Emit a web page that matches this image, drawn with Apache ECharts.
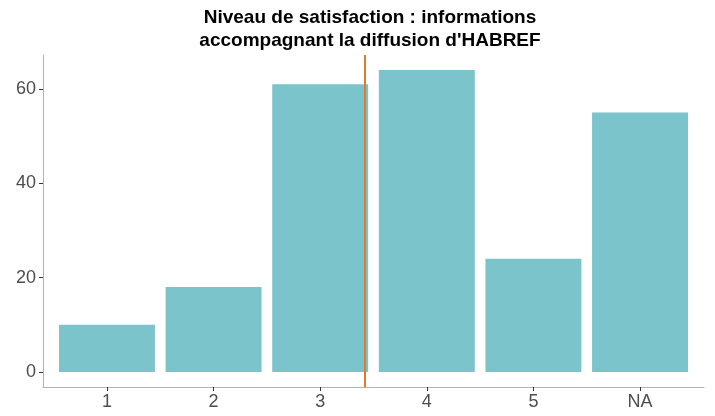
<!DOCTYPE html>
<html>
<head>
<meta charset="utf-8">
<script src="https://cdn.jsdelivr.net/npm/echarts@6/dist/echarts.min.js"></script>
<style>html,body{margin:0;padding:0;background:#fff}#c{width:715px;height:416px}</style>
</head>
<body>
<div id="c"></div>
<script>
const categories = ['1', '2', '3', '4', '5', 'NA'];
const counts = [10, 18, 61, 64, 24, 55];
const yTicks = [0, 20, 40, 60];
const meanScore = 3.42;

const chart = echarts.init(document.getElementById('c'), null, {renderer: 'canvas'});
const barData = categories.map((c, i) => [i + 1, counts[i]]);
const xPositions = categories.map((c, i) => i + 1);

chart.setOption({
  animation: false,
  backgroundColor: '#ffffff',
  title: {
    text: "Niveau de satisfaction : informations\naccompagnant la diffusion d'HABREF",
    left: 365, top: 1, textAlign: 'center',
    textStyle: {fontFamily: 'Liberation Sans, Arial, sans-serif', fontSize: 19, fontWeight: 'bold', color: '#000', lineHeight: 23}
  },
  grid: {left: 43, right: 11, top: 55, bottom: 29, containLabel: false},
  xAxis: {
    type: 'value', min: 0.4, max: 6.6,
    axisLine: {show: true, onZero: false, lineStyle: {color: '#b3b3b3', width: 1}},
    axisTick: {show: true, length: 4, lineStyle: {color: '#333'}, customValues: xPositions},
    splitLine: {show: false},
    axisLabel: {
      fontFamily: 'Liberation Sans, Arial, sans-serif', fontSize: 18, color: '#4d4d4d', margin: 6,
      customValues: xPositions,
      formatter: v => categories[Math.round(v) - 1] || ''
    }
  },
  yAxis: {
    type: 'value', min: -3.2, max: 67.2,
    axisLine: {show: true, onZero: false, lineStyle: {color: '#b3b3b3', width: 1}},
    axisTick: {show: true, length: 4, lineStyle: {color: '#333'}, customValues: yTicks},
    splitLine: {show: false},
    axisLabel: {
      fontFamily: 'Liberation Sans, Arial, sans-serif', fontSize: 18, color: '#4d4d4d', margin: 7,
      customValues: yTicks
    }
  },
  series: [{
    type: 'bar',
    data: barData,
    barWidth: '90%',
    itemStyle: {color: '#7bc4cc'},
    markLine: {
      silent: true, symbol: 'none', label: {show: false},
      lineStyle: {color: '#e8782a', width: 2, type: 'solid'},
      data: [{xAxis: meanScore}]
    }
  }]
});
</script>
</body>
</html>
